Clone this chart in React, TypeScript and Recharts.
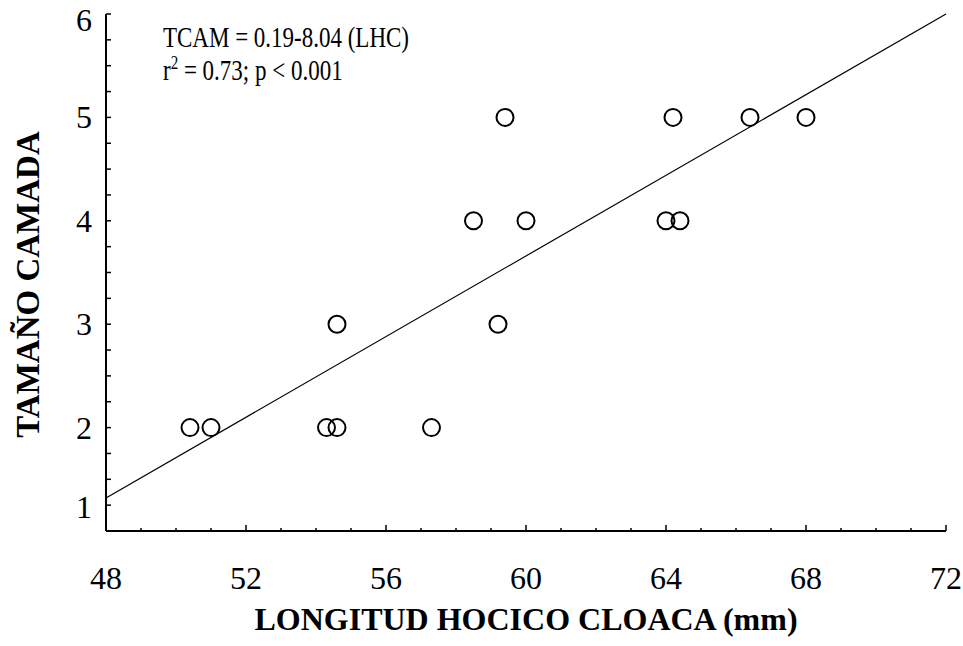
/**
 * Litter size vs snout-vent length, with fitted regression line.
 */

import {
  ScatterChart,
  Scatter,
  XAxis,
  YAxis,
  ReferenceLine,
} from "recharts";

// Observations (LHC in mm, TCAM = litter size)
const lhc = [50.4, 51.0, 54.3, 54.6, 57.3, 54.6, 59.2, 58.5, 60.0, 64.0, 64.4, 59.4, 64.2, 66.4, 68.0];
const tcam = [2, 2, 2, 2, 2, 3, 3, 4, 4, 4, 4, 5, 5, 5, 5];

// Regression line end points
const fitX = [48, 72];
const fitY = [1.32, 6.0];

const xTicks = [48, 49, 50, 51, 52, 53, 54, 55, 56, 57, 58, 59, 60, 61, 62, 63, 64, 65, 66, 67, 68, 69, 70, 71, 72];
const yTicks = [1, 1.25, 1.5, 1.75, 2, 2.25, 2.5, 2.75, 3, 3.25, 3.5, 3.75, 4, 4.25, 4.5, 4.75, 5, 5.25, 5.5, 5.75, 6];

const data = lhc.map((x, i) => ({ x, y: tcam[i] }));

const FONT = '"Liberation Serif", "Times New Roman", serif';

const XTick = ({ x, y, payload }: any) => {
  const major = payload.value % 4 === 0;
  return (
    <g>
      <line x1={x} x2={x} y1={y} y2={y - (major ? 6 : 3)} stroke="#000" strokeWidth={1.5} />
      {major && (
        <text x={x} y={y + 58} textAnchor="middle" fontFamily={FONT} fontSize={32} fill="#000">
          {payload.value}
        </text>
      )}
    </g>
  );
};

const YTick = ({ x, y, payload }: any) => {
  const major = Number.isInteger(payload.value);
  // end labels are nudged inward, away from the corners
  const dy = payload.value === 1 ? -24 : payload.value === 6 ? 6 : 0;
  return (
    <g>
      <line x1={x} x2={x + 5} y1={y} y2={y} stroke="#000" strokeWidth={1.5} />
      {major && (
        <text x={x - 14} y={y + dy + 11} textAnchor="end" fontFamily={FONT} fontSize={32} fill="#000">
          {payload.value}
        </text>
      )}
    </g>
  );
};

const YTitle = ({ viewBox }: any) => {
  const cy = viewBox.y + viewBox.height / 2 + 12;
  return (
    <text
      x={28}
      y={cy}
      transform={`rotate(-90, 28, ${cy})`}
      textAnchor="middle"
      dominantBaseline="central"
      fontFamily={FONT}
      fontWeight="bold"
      fontSize={33}
      fill="#000"
    >
      TAMAÑO CAMADA
    </text>
  );
};

const Ring = ({ cx, cy }: any) => (
  <circle cx={cx} cy={cy} r={8.5} fill="none" stroke="#000" strokeWidth={2} />
);

export default function App() {
  return (
    <div style={{ position: "relative", width: 963, height: 646, background: "#fff" }}>
      <style>{`body { margin: 0; }`}</style>
      <ScatterChart width={963} height={646} margin={{ top: 14, right: 17, bottom: 0, left: 0 }}>
        <XAxis
          type="number"
          dataKey="x"
          domain={[48, 72]}
          ticks={xTicks}
          interval={0}
          tickSize={0}
          tickMargin={0}
          height={115}
          axisLine={{ stroke: "#000", strokeWidth: 2 }}
          tick={<XTick />}
          label={{
            value: "LONGITUD HOCICO CLOACA (mm)",
            position: "insideBottom",
            offset: 16,
            style: { fontFamily: FONT, fontWeight: "bold", fontSize: 32, fill: "#000" },
          }}
        />
        <YAxis
          type="number"
          dataKey="y"
          domain={[1, 6]}
          ticks={yTicks}
          interval={0}
          tickSize={0}
          tickMargin={0}
          width={106}
          axisLine={{ stroke: "#000", strokeWidth: 2 }}
          tick={<YTick />}
          label={<YTitle />}
        />
        <ReferenceLine
          segment={[{ x: fitX[0], y: fitY[0] }, { x: fitX[1], y: fitY[1] }]}
          stroke="#000"
          strokeWidth={1.2}
          ifOverflow="visible"
        />
        <Scatter data={data} shape={<Ring />} isAnimationActive={false} />
      </ScatterChart>

      {/* regression annotation, slightly tall type as in the original */}
      <svg width={963} height={646} style={{ position: "absolute", left: 0, top: 0, pointerEvents: "none" }}>
        <g transform="translate(163,47) scale(1,1.25)">
          <text x={0} y={0} fontFamily={FONT} fontSize={23} fill="#000">
            TCAM = 0.19-8.04 (LHC)
          </text>
          <text x={0} y={26.4} fontFamily={FONT} fontSize={23} fill="#000">
            r<tspan dy={-9} fontSize={15}>2</tspan>
            <tspan dy={9}> = 0.73; p &lt; 0.001</tspan>
          </text>
        </g>
      </svg>
    </div>
  );
}
